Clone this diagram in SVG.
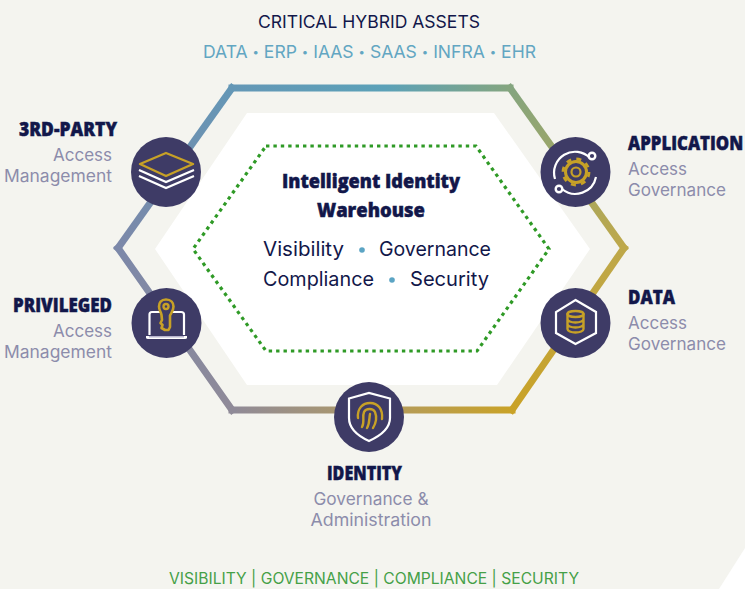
<svg xmlns="http://www.w3.org/2000/svg" width="745" height="589" viewBox="0 0 745 589">
<defs>
<style>
.h{font-family:"Open Sans","Liberation Sans",sans-serif;font-weight:800;fill:#12174a;stroke:#12174a;stroke-width:.5}
.s{font-family:Inter,"Liberation Sans",sans-serif;font-size:17px;fill:#8c8cab}
.b{font-family:Inter,"Liberation Sans",sans-serif;font-size:20px;fill:#12174a}
.dot{font-size:11px}
.seg{fill:none;stroke-width:7;stroke-linecap:square;stroke-linejoin:miter}
.disc{fill:#3e3b66}
.w{fill:none;stroke:#fff;stroke-width:2.2;stroke-linejoin:miter}
.g{fill:none;stroke:#c7a127;stroke-width:2.4;stroke-linecap:round;stroke-linejoin:round}
</style>
<linearGradient id="g1" gradientUnits="userSpaceOnUse" x1="118" y1="248" x2="232" y2="88"><stop offset="0" stop-color="#7c88a9"/><stop offset="1" stop-color="#6497b6"/></linearGradient>
<linearGradient id="g2" gradientUnits="userSpaceOnUse" x1="232" y1="88" x2="510" y2="88"><stop offset="0" stop-color="#6497b6"/><stop offset=".55" stop-color="#5ba1b8"/><stop offset="1" stop-color="#84a57f"/></linearGradient>
<linearGradient id="g3" gradientUnits="userSpaceOnUse" x1="510" y1="88" x2="624" y2="248"><stop offset="0" stop-color="#84a57f"/><stop offset="1" stop-color="#bea84a"/></linearGradient>
<linearGradient id="g4" gradientUnits="userSpaceOnUse" x1="624" y1="248" x2="512" y2="410"><stop offset="0" stop-color="#bea84a"/><stop offset="1" stop-color="#c9a227"/></linearGradient>
<linearGradient id="g5" gradientUnits="userSpaceOnUse" x1="512" y1="410" x2="232" y2="410"><stop offset="0" stop-color="#c9a227"/><stop offset=".5" stop-color="#b09a64"/><stop offset="1" stop-color="#8f8a98"/></linearGradient>
<linearGradient id="g6" gradientUnits="userSpaceOnUse" x1="232" y1="410" x2="118" y2="248"><stop offset="0" stop-color="#8f8a98"/><stop offset="1" stop-color="#7c88a9"/></linearGradient>
</defs>
<rect width="745" height="589" fill="#f4f4ef"/>
<polygon points="745,548 745,589 719,589" fill="#fff"/>
<polygon points="247,113 494,113 590,249 497,385 247,385 155,249" fill="#fff"/>

<g id="connectors">
<path class="seg" stroke="url(#g1)" d="M118 248L232 88"/>
<path class="seg" stroke="url(#g2)" d="M232 88H510"/>
<path class="seg" stroke="url(#g3)" d="M510 88L624 248"/>
<path class="seg" stroke="url(#g4)" d="M624 248L512 410"/>
<path class="seg" stroke="url(#g5)" d="M512 410H232"/>
<path class="seg" stroke="url(#g6)" d="M232 410L118 248"/>
</g>

<g id="warehouse">
<polygon points="266,146 476,146 549,249 477,351 266,351 193,249" fill="none" stroke="#2f9a26" stroke-width="3.200" stroke-dasharray="3.400 4"/>
<text class="h" x="371" y="188" font-size="20" text-anchor="middle" textLength="178" lengthAdjust="spacingAndGlyphs">Intelligent Identity</text>
<text class="h" x="371" y="217" font-size="20" text-anchor="middle" textLength="108" lengthAdjust="spacingAndGlyphs">Warehouse</text>
<text class="b" x="263" y="256" textLength="81" lengthAdjust="spacingAndGlyphs">Visibility</text>
<circle cx="362" cy="250" r="2.800" fill="#5ba4c4"/>
<text class="b" x="379" y="256" textLength="112" lengthAdjust="spacingAndGlyphs">Governance</text>
<text class="b" x="263" y="286" textLength="111" lengthAdjust="spacingAndGlyphs">Compliance</text>
<circle cx="392" cy="280" r="2.800" fill="#5ba4c4"/>
<text class="b" x="410" y="286" textLength="79" lengthAdjust="spacingAndGlyphs">Security</text>
</g>

<g id="assets">
<text x="369" y="28" text-anchor="middle" font-family="Inter,'Liberation Sans',sans-serif" font-size="17" fill="#12174a" textLength="222" lengthAdjust="spacingAndGlyphs">CRITICAL HYBRID ASSETS</text>
<text x="369.500" y="58" text-anchor="middle" font-family="Inter,'Liberation Sans',sans-serif" font-size="17" fill="#62a6c2" textLength="333" lengthAdjust="spacingAndGlyphs">DATA <tspan class="dot" dy="-2">•</tspan><tspan dy="2"> ERP </tspan><tspan class="dot" dy="-2">•</tspan><tspan dy="2"> IAAS </tspan><tspan class="dot" dy="-2">•</tspan><tspan dy="2"> SAAS </tspan><tspan class="dot" dy="-2">•</tspan><tspan dy="2"> INFRA </tspan><tspan class="dot" dy="-2">•</tspan><tspan dy="2"> EHR</tspan></text>
</g>

<g id="third-party">
<circle class="disc" cx="166" cy="172" r="35"/>
<polygon class="g" points="140,164 166,153 193,164 166,176"/>
<path class="w" d="M139 170L166 182L194 170M139 176L166 188L194 176"/>
<text class="h" x="19" y="136" font-size="20" textLength="98" lengthAdjust="spacingAndGlyphs">3RD-PARTY</text>
<text class="s" x="112" y="161" text-anchor="end">Access</text>
<text class="s" x="112" y="182" text-anchor="end" textLength="108" lengthAdjust="spacingAndGlyphs">Management</text>
</g>

<g id="privileged">
<circle class="disc" cx="166.500" cy="323" r="35"/>
<path class="w" d="M149.500 335V314.500Q149.500 312 152 312H181Q184 312 184 314.500V335"/>
<path d="M146 336H187V337.500Q187 339 185 339H148Q146 339 146 337.500Z" fill="#fff"/>
<rect x="149" y="336" width="35" height="1.500" fill="#b9b6cf"/>
<path d="M166 299.500C161 299.500 159 303 159 306.500C159 310 161 312 161.500 315L162 320L160.500 323L162.500 325L161.500 328L165 330H168.500L170 327V315.500C171.500 312.500 173.500 310.500 173.500 306.500C173.500 303 171 299.500 166 299.500Z" fill="#3e3b66" stroke="#c7a127" stroke-width="2.600" stroke-linejoin="round"/>
<circle cx="166" cy="306.500" r="2.500" class="g" stroke-width="1.800"/>
<text class="h" x="13" y="312" font-size="20" textLength="99" lengthAdjust="spacingAndGlyphs">PRIVILEGED</text>
<text class="s" x="112" y="337" text-anchor="end">Access</text>
<text class="s" x="112" y="358" text-anchor="end" textLength="108" lengthAdjust="spacingAndGlyphs">Management</text>
</g>

<g id="application">
<circle class="disc" cx="575.500" cy="172" r="35"/>
<path class="w" d="M590 158A21 21 0 0 0 555 179M562 189A21 21 0 0 0 596 177"/>
<circle cx="592" cy="156" r="3.300" fill="#3e3b66" stroke="#fff" stroke-width="2.400"/>
<circle cx="559" cy="189" r="3.300" fill="#3e3b66" stroke="#fff" stroke-width="2.400"/>
<circle cx="576" cy="172" r="10.500" fill="none" stroke="#c7a127" stroke-width="3"/>
<circle cx="576" cy="172" r="13" fill="none" stroke="#c7a127" stroke-width="2.800" stroke-dasharray="5 5.200"/>
<circle cx="576" cy="172" r="4.500" fill="none" stroke="#c7a127" stroke-width="2.200"/>
<text class="h" transform="translate(628 150) scale(.84 1)" font-size="20">APPLICATION</text>
<text class="s" x="628" y="175">Access</text>
<text class="s" x="628" y="196" textLength="98" lengthAdjust="spacingAndGlyphs">Governance</text>
</g>

<g id="data">
<circle class="disc" cx="575.500" cy="323" r="35"/>
<polygon class="w" points="575.500,300 596,312 596,333 575.500,344 556,333 556,312"/>
<ellipse cx="575.500" cy="314" rx="8" ry="3" class="g" stroke-width="2"/>
<path class="g" stroke-width="2" d="M567.500 314V329C567.500 331 571 332.500 575.500 332.500C580 332.500 583.500 331 583.500 329V314M567.500 319C567.500 321 571 322.500 575.500 322.500C580 322.500 583.500 321 583.500 319M567.500 324C567.500 326 571 327.500 575.500 327.500C580 327.500 583.500 326 583.500 324"/>
<text class="h" x="628" y="304" font-size="20" textLength="47" lengthAdjust="spacingAndGlyphs">DATA</text>
<text class="s" x="628" y="329">Access</text>
<text class="s" x="628" y="350" textLength="98" lengthAdjust="spacingAndGlyphs">Governance</text>
</g>

<g id="identity">
<circle class="disc" cx="369" cy="417" r="35"/>
<path class="w" d="M349 398.500L369 393L390 398.500V418C390 428 380 436 369 441C358 436 349 428 349 418Z"/>
<path class="g" d="M358 418C357 408 363 403 370 403C378 403 383 409 382 419"/>
<path class="g" d="M362 427C365 422 362 417 364 412C366 408 373 408 375 412C377 417 376 423 373 428"/>
<path class="g" d="M367 428C370 423 369 418 370 414"/>
<text class="h" x="327" y="480" font-size="20" textLength="75" lengthAdjust="spacingAndGlyphs">IDENTITY</text>
<text class="s" x="371" y="505" text-anchor="middle" textLength="115" lengthAdjust="spacingAndGlyphs">Governance &amp;</text>
<text class="s" x="371" y="526" text-anchor="middle" textLength="121" lengthAdjust="spacingAndGlyphs">Administration</text>
</g>

<text x="374" y="584" text-anchor="middle" font-family="Inter,'Liberation Sans',sans-serif" font-size="15.500" fill="#45a047" textLength="410" lengthAdjust="spacingAndGlyphs">VISIBILITY | GOVERNANCE | COMPLIANCE | SECURITY</text>
</svg>
